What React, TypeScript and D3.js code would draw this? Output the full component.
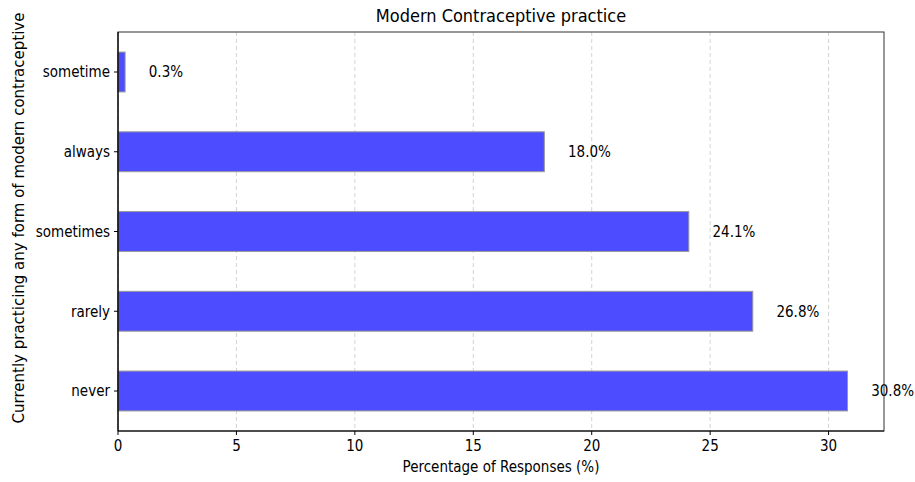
import React from "react";
import * as d3 from "d3";

const categories = ["never", "rarely", "sometimes", "always", "sometime"];
const values = [30.8, 26.8, 24.1, 18.0, 0.3];
const xTicks = [0, 5, 10, 15, 20, 25, 30];

const W = 915, H = 482;
const M = { left: 118, right: 884, top: 32, bottom: 431 };
const FONT = "'DejaVu Sans Condensed', 'DejaVu Sans', sans-serif";

export default function App() {
  const x = d3.scaleLinear().domain([0, d3.max(values)! * 1.05]).range([M.left, M.right]);
  const y = d3.scaleLinear().domain([0, categories.length - 1]).range([391, 72]);
  const bh = y(0) - y(0.5);
  return (
    <svg width={W} height={H} style={{ position: "absolute", left: 0, top: 0, background: "#fff" }}>
      <g fontFamily={FONT} fill="#000">
        {xTicks.map((t) => (
          <line key={"g" + t} x1={x(t)} x2={x(t)} y1={M.top} y2={M.bottom} stroke="#b0b0b0" strokeOpacity={0.7} strokeDasharray="4,3" strokeWidth={0.8} />
        ))}
        {values.map((v, i) => (
          <rect key={"b" + i} x={x(0)} y={y(i) - bh / 2} width={x(v) - x(0)} height={bh} fill="#4d4dff" stroke="#999" strokeWidth={1} />
        ))}
        {values.map((v, i) => (
          <text key={"l" + i} x={x(v + 1)} y={y(i)} dy="0.35em" fontSize={15}>{v.toFixed(1)}%</text>
        ))}
        <rect x={M.left} y={M.top} width={M.right - M.left} height={M.bottom - M.top} fill="none" stroke="#333" strokeWidth={1} />
        <line x1={M.left} x2={M.right} y1={M.bottom} y2={M.bottom} stroke="#000" strokeWidth={1.2} />
        <line x1={M.left} x2={M.left} y1={M.top} y2={M.bottom} stroke="#000" strokeWidth={1.2} />
        {xTicks.map((t) => (
          <g key={"t" + t}>
            <line x1={x(t)} x2={x(t)} y1={M.bottom} y2={M.bottom + 4} stroke="#000" />
            <text x={x(t)} y={M.bottom + 20} textAnchor="middle" fontSize={15}>{t}</text>
          </g>
        ))}
        {categories.map((c, i) => (
          <g key={"c" + i}>
            <line x1={M.left - 4} x2={M.left} y1={y(i)} y2={y(i)} stroke="#000" />
            <text x={M.left - 8} y={y(i)} dy="0.35em" textAnchor="end" fontSize={15}>{c}</text>
          </g>
        ))}
        <text x={501} y={22} textAnchor="middle" fontSize={18}>Modern Contraceptive practice</text>
        <text x={501} y={472} textAnchor="middle" fontSize={15}>Percentage of Responses (%)</text>
        <text transform={`translate(24,218) rotate(-90)`} textAnchor="middle" fontFamily="'DejaVu Sans', sans-serif" fontSize={15}>Currently practicing any form of modern contraceptive</text>
      </g>
    </svg>
  );
}
